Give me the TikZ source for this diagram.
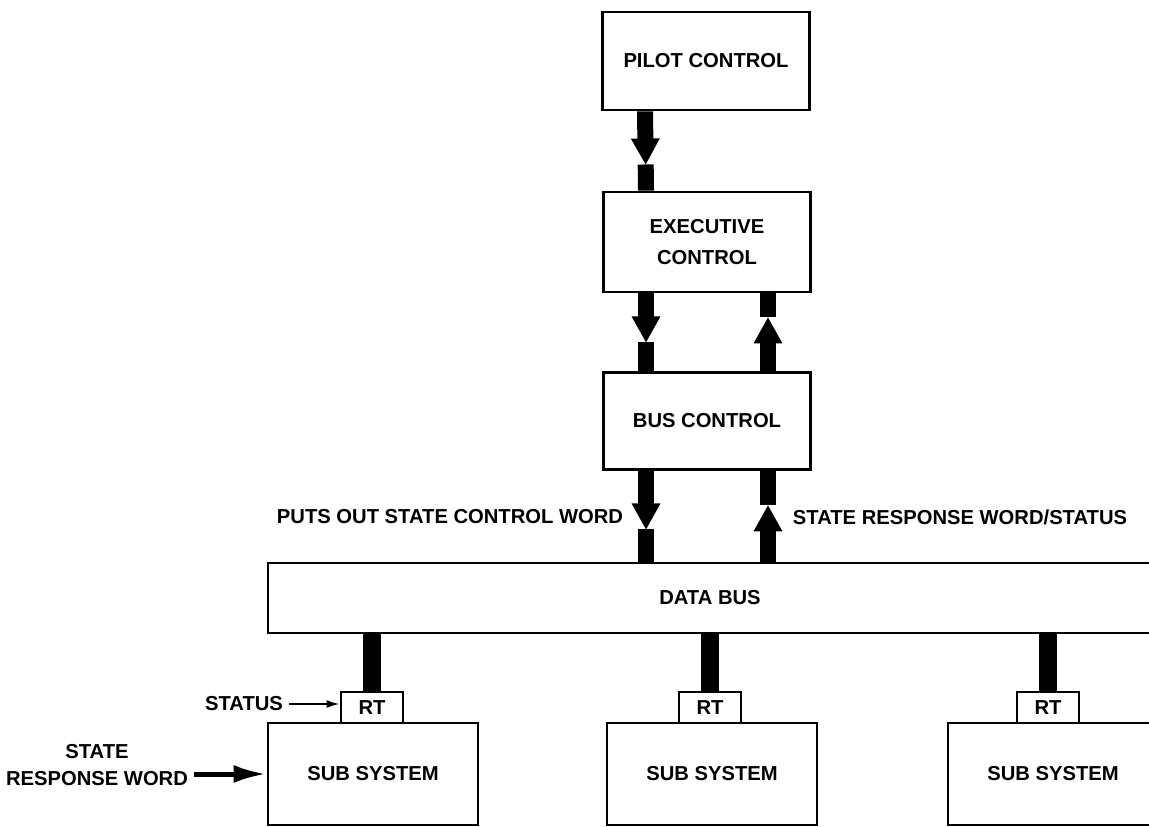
\documentclass[tikz,border=0pt]{standalone}
\usepackage{fontspec}
\setmainfont{Liberation Sans}
\usetikzlibrary{arrows.meta, positioning, decorations.markings}

\tikzset{
  blk/.style={draw, line width=1.6pt, minimum width=4.14cm, align=center},
  % thick bus line with a broad head part way along it
  bar/.style={line width=0.32cm, postaction={decorate},
    decoration={markings, mark=at position #1 with {
      \fill[white] (-0.3cm,-0.2cm) rectangle (0cm,0.2cm);
      \fill (-0.52cm,-0.29cm) -- (0cm,0cm) -- (-0.52cm,0.29cm) -- cycle;}}},
  drop/.style={line width=0.36cm},
  rtbox/.style={draw, line width=1.6pt, minimum width=1.24cm, minimum height=0.62cm, inner sep=0pt},
}

\begin{document}
\begin{tikzpicture}[x=0.02cm, y=-0.02cm, font=\bfseries\fontsize{11.5}{17.5}\selectfont]
            \useasboundingbox (0,0) rectangle (1149,827);
            \clip (0,0) rectangle (1149,827);
            % control chain
            \node[blk, minimum height=1.96cm] (pilot) at (706,61) {PILOT CONTROL};
            \node[blk, minimum height=2cm] (exec) at (707,242) {EXECUTIVE\\CONTROL};
            \node[blk, minimum height=1.94cm] (busctl) at (707,421) {BUS CONTROL};
            \node[draw, line width=1.6pt, minimum width=17.68cm, minimum height=1.4cm] (databus) at (710,598) {DATA BUS};
            \draw[bar=0.67] ([xshift=-1.22cm]pilot.south) -- ([xshift=-1.22cm]exec.north);
            \draw[bar=0.63] ([xshift=-1.22cm]exec.south) -- ([xshift=-1.22cm]busctl.north);
            \draw[bar=0.69] ([xshift=1.22cm]busctl.north) -- ([xshift=1.22cm]exec.south);
            \draw[bar=0.645] ([xshift=-1.22cm]busctl.south) -- ([xshift=-1.22cm]databus.north -| busctl.south);
            \draw[bar=0.62] ([xshift=1.22cm]databus.north -| busctl.south) -- ([xshift=1.22cm]busctl.south);
            \node (putsout) at (450,517) {PUTS OUT STATE CONTROL WORD};
            \node (response) at (960,517) {STATE RESPONSE WORD/STATUS};
            % subsystems on the bus
            \node[blk, minimum width=4.2cm, minimum height=2.04cm] (sub1) at (373,774) {SUB SYSTEM};
            \node[blk, minimum width=4.2cm, minimum height=2.04cm] (sub2) at (712,774) {SUB SYSTEM};
            \node[blk, minimum width=4.2cm, minimum height=2.04cm] (sub3) at (1053,774) {SUB SYSTEM};
            \node[rtbox] (rt1) at (372,707.5) {RT};
            \node[rtbox] (rt2) at (710,707.5) {RT};
            \node[rtbox] (rt3) at (1048,707.5) {RT};
            \draw[drop] (rt1.north) -- (rt1.north |- databus.south);
            \draw[drop] (rt2.north) -- (rt2.north |- databus.south);
            \draw[drop] (rt3.north) -- (rt3.north |- databus.south);
            \node (status) at (244,704) {STATUS};
            \node[align=center] (srw) at (97,765) {STATE\\[-2pt]RESPONSE WORD};
            \draw[-{Latex[length=0.26cm,width=0.16cm]}, line width=1.2pt] (status.east) -- (status.east -| rt1.west);
            \draw[-{Latex[length=0.66cm,width=0.36cm]}, line width=0.1cm] (srw.east |- sub1.west) -- (sub1.west);
        \end{tikzpicture}
\end{document}
